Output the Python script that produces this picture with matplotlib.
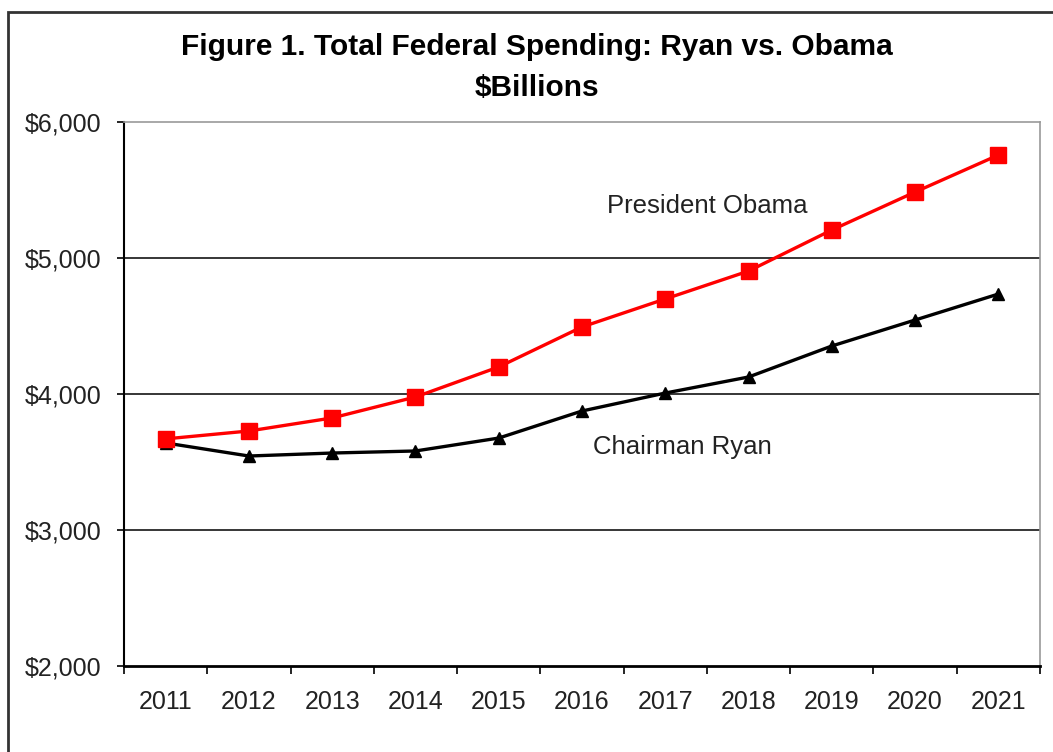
import matplotlib.pyplot as plt
from matplotlib.patches import Rectangle

plt.rcParams['font.family'] = ['Liberation Sans', 'DejaVu Sans']

# --- DATA ---
years = ['2011', '2012', '2013', '2014', '2015', '2016', '2017', '2018', '2019', '2020', '2021']
obama = [3670, 3728, 3824, 3978, 4199, 4493, 4699, 4904, 5206, 5485, 5757]
ryan = [3640, 3544, 3566, 3581, 3676, 3875, 4007, 4125, 4353, 4544, 4735]
y_ticks = [2000, 3000, 4000, 5000, 6000]

fig = plt.figure(figsize=(10.53, 7.52), dpi=100)
ax = fig.add_axes([124 / 1053, 86 / 752, 916 / 1053, 544 / 752])

# outer frame of the chart
fig.patches.append(Rectangle((8 / 1053, -0.02), 1.05, 1 - 12 / 752 + 0.02,
                             transform=fig.transFigure, fill=False,
                             edgecolor='#333333', linewidth=2))

x = list(range(len(years)))
ax.plot(x, obama, color='#ff0000', linewidth=2.4, marker='s', markersize=12,
        markerfacecolor='#ff0000', markeredgecolor='#ff0000', zorder=4)
ax.plot(x, ryan, color='black', linewidth=2.4, marker='^', markersize=9,
        markerfacecolor='black', zorder=3)

ax.set_xlim(-0.5, len(years) - 0.5)
ax.set_ylim(y_ticks[0], y_ticks[-1])

# grid lines
for v in y_ticks[1:-1]:
    ax.axhline(v, color='black', linewidth=1.1, zorder=1)

ax.set_yticks(y_ticks)
ax.set_yticklabels([f'${v:,}' for v in y_ticks], fontsize=18, color='#222222')
ax.tick_params(axis='y', direction='out', length=5, width=1.2, pad=11)

# category axis: ticks between categories, labels centered
ax.set_xticks([i - 0.5 for i in range(len(years) + 1)])
ax.set_xticklabels([])
ax.set_xticks(x, minor=True)
ax.set_xticklabels(years, minor=True, fontsize=18, color='#222222')
ax.tick_params(axis='x', which='major', direction='out', length=6, width=1.2)
ax.tick_params(axis='x', which='minor', length=0, pad=17)

for s in ['top', 'right']:
    ax.spines[s].set_color('#999999')
    ax.spines[s].set_linewidth(1.2)
ax.spines['left'].set_linewidth(1.5)
ax.spines['bottom'].set_linewidth(2)

ax.text(6.5, 5380, 'President Obama', fontsize=18.5, color='#222222',
        ha='center', va='center')
ax.text(6.2, 3610, 'Chairman Ryan', fontsize=18.5, color='#222222',
        ha='center', va='center')

fig.text(537 / 1053, 1 - 47 / 752, 'Figure 1. Total Federal Spending: Ryan vs. Obama',
         fontsize=21.5, fontweight='bold', ha='center', va='center')
fig.text(537 / 1053, 1 - 88 / 752, '$Billions',
         fontsize=21.5, fontweight='bold', ha='center', va='center')

fig.savefig('out.png', dpi=100)
